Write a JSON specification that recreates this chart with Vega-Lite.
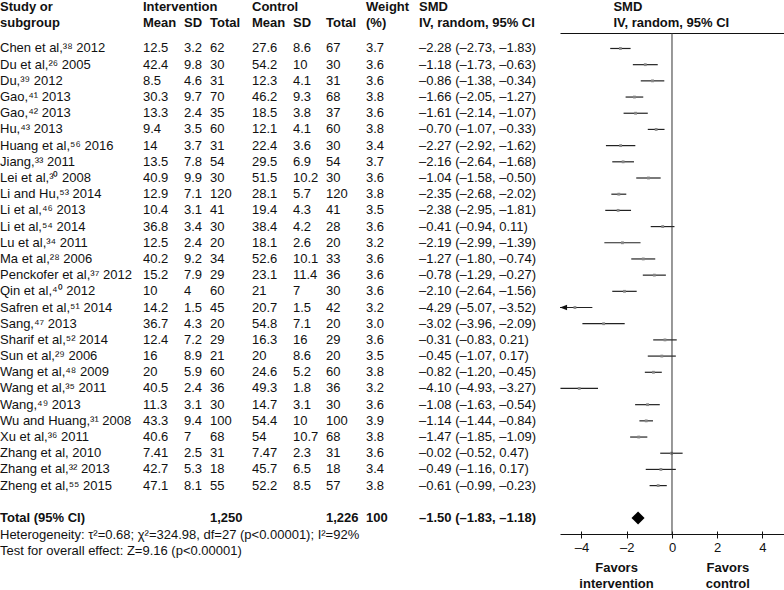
{
  "$schema": "https://vega.github.io/schema/vega-lite/v6.json",
  "padding": 0,
  "spacing": 0,
  "bounds": "flush",
  "config": {
    "view": {"stroke": null},
    "text": {"font": "Liberation Sans", "fontSize": 13, "color": "#111"},
    "axis": {"labelFont": "Liberation Sans", "labelFontSize": 13, "labelColor": "#111", "domainColor": "#111", "tickColor": "#111", "grid": false}
  },
  "datasets": {
    "studies": [
      {"k":"s1","study":"Chen et al,³⁸ 2012","im":12.5,"isd":3.2,"itot":62,"cm":27.6,"csd":8.6,"ctot":67,"w":3.7,"smd":-2.28,"lo":-2.73,"hi":-1.83},
      {"k":"s2","study":"Du et al,²⁶ 2005","im":42.4,"isd":9.8,"itot":30,"cm":54.2,"csd":10,"ctot":30,"w":3.6,"smd":-1.18,"lo":-1.73,"hi":-0.63},
      {"k":"s3","study":"Du,³⁹ 2012","im":8.5,"isd":4.6,"itot":31,"cm":12.3,"csd":4.1,"ctot":31,"w":3.6,"smd":-0.86,"lo":-1.38,"hi":-0.34},
      {"k":"s4","study":"Gao,⁴¹ 2013","im":30.3,"isd":9.7,"itot":70,"cm":46.2,"csd":9.3,"ctot":68,"w":3.8,"smd":-1.66,"lo":-2.05,"hi":-1.27},
      {"k":"s5","study":"Gao,⁴² 2013","im":13.3,"isd":2.4,"itot":35,"cm":18.5,"csd":3.8,"ctot":37,"w":3.6,"smd":-1.61,"lo":-2.14,"hi":-1.07},
      {"k":"s6","study":"Hu,⁴³ 2013","im":9.4,"isd":3.5,"itot":60,"cm":12.1,"csd":4.1,"ctot":60,"w":3.8,"smd":-0.70,"lo":-1.07,"hi":-0.33},
      {"k":"s7","study":"Huang et al,⁵⁶ 2016","im":14,"isd":3.7,"itot":31,"cm":22.4,"csd":3.6,"ctot":30,"w":3.4,"smd":-2.27,"lo":-2.92,"hi":-1.62},
      {"k":"s8","study":"Jiang,³³ 2011","im":13.5,"isd":7.8,"itot":54,"cm":29.5,"csd":6.9,"ctot":54,"w":3.7,"smd":-2.16,"lo":-2.64,"hi":-1.68},
      {"k":"s9","study":"Lei et al,³⁰ 2008","im":40.9,"isd":9.9,"itot":30,"cm":51.5,"csd":10.2,"ctot":30,"w":3.6,"smd":-1.04,"lo":-1.58,"hi":-0.50},
      {"k":"s10","study":"Li and Hu,⁵³ 2014","im":12.9,"isd":7.1,"itot":120,"cm":28.1,"csd":5.7,"ctot":120,"w":3.8,"smd":-2.35,"lo":-2.68,"hi":-2.02},
      {"k":"s11","study":"Li et al,⁴⁶ 2013","im":10.4,"isd":3.1,"itot":41,"cm":19.4,"csd":4.3,"ctot":41,"w":3.5,"smd":-2.38,"lo":-2.95,"hi":-1.81},
      {"k":"s12","study":"Li et al,⁵⁴ 2014","im":36.8,"isd":3.4,"itot":30,"cm":38.4,"csd":4.2,"ctot":28,"w":3.6,"smd":-0.41,"lo":-0.94,"hi":0.11},
      {"k":"s13","study":"Lu et al,³⁴ 2011","im":12.5,"isd":2.4,"itot":20,"cm":18.1,"csd":2.6,"ctot":20,"w":3.2,"smd":-2.19,"lo":-2.99,"hi":-1.39},
      {"k":"s14","study":"Ma et al,²⁸ 2006","im":40.2,"isd":9.2,"itot":34,"cm":52.6,"csd":10.1,"ctot":33,"w":3.6,"smd":-1.27,"lo":-1.80,"hi":-0.74},
      {"k":"s15","study":"Penckofer et al,³⁷ 2012","im":15.2,"isd":7.9,"itot":29,"cm":23.1,"csd":11.4,"ctot":36,"w":3.6,"smd":-0.78,"lo":-1.29,"hi":-0.27},
      {"k":"s16","study":"Qin et al,⁴⁰ 2012","im":10,"isd":4,"itot":60,"cm":21,"csd":7,"ctot":30,"w":3.6,"smd":-2.10,"lo":-2.64,"hi":-1.56},
      {"k":"s17","study":"Safren et al,⁵¹ 2014","im":14.2,"isd":1.5,"itot":45,"cm":20.7,"csd":1.5,"ctot":42,"w":3.2,"smd":-4.29,"lo":-5.07,"hi":-3.52},
      {"k":"s18","study":"Sang,⁴⁷ 2013","im":36.7,"isd":4.3,"itot":20,"cm":54.8,"csd":7.1,"ctot":20,"w":3.0,"smd":-3.02,"lo":-3.96,"hi":-2.09},
      {"k":"s19","study":"Sharif et al,⁵² 2014","im":12.4,"isd":7.2,"itot":29,"cm":16.3,"csd":16,"ctot":29,"w":3.6,"smd":-0.31,"lo":-0.83,"hi":0.21},
      {"k":"s20","study":"Sun et al,²⁹ 2006","im":16,"isd":8.9,"itot":21,"cm":20,"csd":8.6,"ctot":20,"w":3.5,"smd":-0.45,"lo":-1.07,"hi":0.17},
      {"k":"s21","study":"Wang et al,⁴⁸ 2009","im":20,"isd":5.9,"itot":60,"cm":24.6,"csd":5.2,"ctot":60,"w":3.8,"smd":-0.82,"lo":-1.20,"hi":-0.45},
      {"k":"s22","study":"Wang et al,³⁵ 2011","im":40.5,"isd":2.4,"itot":36,"cm":49.3,"csd":1.8,"ctot":36,"w":3.2,"smd":-4.10,"lo":-4.93,"hi":-3.27},
      {"k":"s23","study":"Wang,⁴⁹ 2013","im":11.3,"isd":3.1,"itot":30,"cm":14.7,"csd":3.1,"ctot":30,"w":3.6,"smd":-1.08,"lo":-1.63,"hi":-0.54},
      {"k":"s24","study":"Wu and Huang,³¹ 2008","im":43.3,"isd":9.4,"itot":100,"cm":54.4,"csd":10,"ctot":100,"w":3.9,"smd":-1.14,"lo":-1.44,"hi":-0.84},
      {"k":"s25","study":"Xu et al,³⁶ 2011","im":40.6,"isd":7,"itot":68,"cm":54,"csd":10.7,"ctot":68,"w":3.8,"smd":-1.47,"lo":-1.85,"hi":-1.09},
      {"k":"s26","study":"Zhang et al, 2010","im":7.41,"isd":2.5,"itot":31,"cm":7.47,"csd":2.3,"ctot":31,"w":3.6,"smd":-0.02,"lo":-0.52,"hi":0.47},
      {"k":"s27","study":"Zhang et al,³² 2013","im":42.7,"isd":5.3,"itot":18,"cm":45.7,"csd":6.5,"ctot":18,"w":3.4,"smd":-0.49,"lo":-1.16,"hi":0.17},
      {"k":"s28","study":"Zheng et al,⁵⁵ 2015","im":47.1,"isd":8.1,"itot":55,"cm":52.2,"csd":8.5,"ctot":57,"w":3.8,"smd":-0.61,"lo":-0.99,"hi":-0.23}
    ],
    "total": [
      {"k":"Total","study":"Total (95% CI)","itot":1250,"ctot":1226,"w":100,"smd":-1.50,"lo":-1.83,"hi":-1.18}
    ],
    "hdr": [
      {"k":"h1","col":"study","t":"Study or"},
      {"k":"h2","col":"study","t":"subgroup"},
      {"k":"h1","col":"im","t":"Intervention"},
      {"k":"h2","col":"im","t":"Mean"},
      {"k":"h2","col":"isd","t":"SD"},
      {"k":"h2","col":"itot","t":"Total"},
      {"k":"h1","col":"cm","t":"Control"},
      {"k":"h2","col":"cm","t":"Mean"},
      {"k":"h2","col":"csd","t":"SD"},
      {"k":"h2","col":"ctot","t":"Total"},
      {"k":"h1","col":"w","t":"Weight"},
      {"k":"h2","col":"w","t":"(%)"},
      {"k":"h1","col":"ci","t":"SMD"},
      {"k":"h2","col":"ci","t":"IV, random, 95% CI"},
      {"k":"h1","col":"plot","t":"SMD"},
      {"k":"h2","col":"plot","t":"IV, random, 95% CI"}
    ],
    "notes": [
      {"k":"Het","t":"Heterogeneity: τ²=0.68; χ²=324.98, df=27 (p<0.00001); I²=92%"},
      {"k":"Test","t":"Test for overall effect: Z=9.16 (p<0.00001)"}
    ]
  },
  "hconcat": [
    {
      "width": 143, "height": 501,
      "layer": [
        {"data":{"name":"studies"},"mark":{"type":"text","align":"left"},
         "encoding":{"x":{"value":0},"y":{"field":"k","type":"ordinal","scale":{"type":"point","padding":0,"range":[-16.9,549.75],"domain":["h1","h2","s1","s2","s3","s4","s5","s6","s7","s8","s9","s10","s11","s12","s13","s14","s15","s16","s17","s18","s19","s20","s21","s22","s23","s24","s25","s26","s27","s28","g","Total","Het","Test","F1","F2"]},"axis":null},"text":{"field":"study","type":"nominal"}}},
        {"data":{"name":"hdr"},"transform":[{"filter":"datum.col === 'study'"}],"mark":{"type":"text","align":"left","fontWeight":"bold","dy":-9.3},
         "encoding":{"x":{"value":0},"y":{"field":"k","type":"ordinal","axis":null},"text":{"field":"t","type":"nominal"}}},
        {"data":{"name":"total"},"mark":{"type":"text","align":"left","fontWeight":"bold"},
         "encoding":{"x":{"value":0},"y":{"field":"k","type":"ordinal","axis":null},"text":{"field":"study","type":"nominal"}}},
        {"data":{"name":"notes"},"mark":{"type":"text","align":"left","dy":1},
         "encoding":{"x":{"value":0},"y":{"field":"k","type":"ordinal","axis":null},"text":{"field":"t","type":"nominal"}}}
      ]
    },
    {
      "width": 41, "height": 501,
      "layer": [
        {"data":{"name":"studies"},"mark":{"type":"text","align":"left"},
         "encoding":{"x":{"value":0},"y":{"field":"k","type":"ordinal","scale":{"type":"point","padding":0,"range":[-16.9,549.75],"domain":["h1","h2","s1","s2","s3","s4","s5","s6","s7","s8","s9","s10","s11","s12","s13","s14","s15","s16","s17","s18","s19","s20","s21","s22","s23","s24","s25","s26","s27","s28","g","Total","Het","Test","F1","F2"]},"axis":null},"text":{"field":"im","type":"nominal"}}},
        {"data":{"name":"hdr"},"transform":[{"filter":"datum.col === 'im'"}],"mark":{"type":"text","align":"left","fontWeight":"bold","dy":-9.3},
         "encoding":{"x":{"value":0},"y":{"field":"k","type":"ordinal","axis":null},"text":{"field":"t","type":"nominal"}}}
      ]
    },
    {
      "width": 25.5, "height": 501,
      "layer": [
        {"data":{"name":"studies"},"mark":{"type":"text","align":"left"},
         "encoding":{"x":{"value":0},"y":{"field":"k","type":"ordinal","scale":{"type":"point","padding":0,"range":[-16.9,549.75],"domain":["h1","h2","s1","s2","s3","s4","s5","s6","s7","s8","s9","s10","s11","s12","s13","s14","s15","s16","s17","s18","s19","s20","s21","s22","s23","s24","s25","s26","s27","s28","g","Total","Het","Test","F1","F2"]},"axis":null},"text":{"field":"isd","type":"nominal"}}},
        {"data":{"name":"hdr"},"transform":[{"filter":"datum.col === 'isd'"}],"mark":{"type":"text","align":"left","fontWeight":"bold","dy":-9.3},
         "encoding":{"x":{"value":0},"y":{"field":"k","type":"ordinal","axis":null},"text":{"field":"t","type":"nominal"}}}
      ]
    },
    {
      "width": 41.5, "height": 501,
      "layer": [
        {"data":{"name":"studies"},"mark":{"type":"text","align":"left"},
         "encoding":{"x":{"value":0},"y":{"field":"k","type":"ordinal","scale":{"type":"point","padding":0,"range":[-16.9,549.75],"domain":["h1","h2","s1","s2","s3","s4","s5","s6","s7","s8","s9","s10","s11","s12","s13","s14","s15","s16","s17","s18","s19","s20","s21","s22","s23","s24","s25","s26","s27","s28","g","Total","Het","Test","F1","F2"]},"axis":null},"text":{"field":"itot","type":"nominal"}}},
        {"data":{"name":"hdr"},"transform":[{"filter":"datum.col === 'itot'"}],"mark":{"type":"text","align":"left","fontWeight":"bold","dy":-9.3},
         "encoding":{"x":{"value":0},"y":{"field":"k","type":"ordinal","axis":null},"text":{"field":"t","type":"nominal"}}},
        {"data":{"name":"total"},"mark":{"type":"text","align":"left","fontWeight":"bold"},
         "encoding":{"x":{"value":0},"y":{"field":"k","type":"ordinal","axis":null},"text":{"field":"itot","type":"quantitative","format":","}}}
      ]
    },
    {
      "width": 41, "height": 501,
      "layer": [
        {"data":{"name":"studies"},"mark":{"type":"text","align":"left"},
         "encoding":{"x":{"value":0},"y":{"field":"k","type":"ordinal","scale":{"type":"point","padding":0,"range":[-16.9,549.75],"domain":["h1","h2","s1","s2","s3","s4","s5","s6","s7","s8","s9","s10","s11","s12","s13","s14","s15","s16","s17","s18","s19","s20","s21","s22","s23","s24","s25","s26","s27","s28","g","Total","Het","Test","F1","F2"]},"axis":null},"text":{"field":"cm","type":"nominal"}}},
        {"data":{"name":"hdr"},"transform":[{"filter":"datum.col === 'cm'"}],"mark":{"type":"text","align":"left","fontWeight":"bold","dy":-9.3},
         "encoding":{"x":{"value":0},"y":{"field":"k","type":"ordinal","axis":null},"text":{"field":"t","type":"nominal"}}}
      ]
    },
    {
      "width": 33, "height": 501,
      "layer": [
        {"data":{"name":"studies"},"mark":{"type":"text","align":"left"},
         "encoding":{"x":{"value":0},"y":{"field":"k","type":"ordinal","scale":{"type":"point","padding":0,"range":[-16.9,549.75],"domain":["h1","h2","s1","s2","s3","s4","s5","s6","s7","s8","s9","s10","s11","s12","s13","s14","s15","s16","s17","s18","s19","s20","s21","s22","s23","s24","s25","s26","s27","s28","g","Total","Het","Test","F1","F2"]},"axis":null},"text":{"field":"csd","type":"nominal"}}},
        {"data":{"name":"hdr"},"transform":[{"filter":"datum.col === 'csd'"}],"mark":{"type":"text","align":"left","fontWeight":"bold","dy":-9.3},
         "encoding":{"x":{"value":0},"y":{"field":"k","type":"ordinal","axis":null},"text":{"field":"t","type":"nominal"}}}
      ]
    },
    {
      "width": 40, "height": 501,
      "layer": [
        {"data":{"name":"studies"},"mark":{"type":"text","align":"left"},
         "encoding":{"x":{"value":0},"y":{"field":"k","type":"ordinal","scale":{"type":"point","padding":0,"range":[-16.9,549.75],"domain":["h1","h2","s1","s2","s3","s4","s5","s6","s7","s8","s9","s10","s11","s12","s13","s14","s15","s16","s17","s18","s19","s20","s21","s22","s23","s24","s25","s26","s27","s28","g","Total","Het","Test","F1","F2"]},"axis":null},"text":{"field":"ctot","type":"nominal"}}},
        {"data":{"name":"hdr"},"transform":[{"filter":"datum.col === 'ctot'"}],"mark":{"type":"text","align":"left","fontWeight":"bold","dy":-9.3},
         "encoding":{"x":{"value":0},"y":{"field":"k","type":"ordinal","axis":null},"text":{"field":"t","type":"nominal"}}},
        {"data":{"name":"total"},"mark":{"type":"text","align":"left","fontWeight":"bold"},
         "encoding":{"x":{"value":0},"y":{"field":"k","type":"ordinal","axis":null},"text":{"field":"ctot","type":"quantitative","format":","}}}
      ]
    },
    {
      "width": 52.5, "height": 501,
      "layer": [
        {"data":{"name":"studies"},"mark":{"type":"text","align":"left"},
         "encoding":{"x":{"value":0},"y":{"field":"k","type":"ordinal","scale":{"type":"point","padding":0,"range":[-16.9,549.75],"domain":["h1","h2","s1","s2","s3","s4","s5","s6","s7","s8","s9","s10","s11","s12","s13","s14","s15","s16","s17","s18","s19","s20","s21","s22","s23","s24","s25","s26","s27","s28","g","Total","Het","Test","F1","F2"]},"axis":null},"text":{"field":"w","type":"quantitative","format":".1f"}}},
        {"data":{"name":"hdr"},"transform":[{"filter":"datum.col === 'w'"}],"mark":{"type":"text","align":"left","fontWeight":"bold","dy":-9.3},
         "encoding":{"x":{"value":0},"y":{"field":"k","type":"ordinal","axis":null},"text":{"field":"t","type":"nominal"}}},
        {"data":{"name":"total"},"mark":{"type":"text","align":"left","fontWeight":"bold"},
         "encoding":{"x":{"value":0},"y":{"field":"k","type":"ordinal","axis":null},"text":{"field":"w","type":"nominal"}}}
      ]
    },
    {
      "width": 141, "height": 501,
      "layer": [
        {"data":{"name":"studies"},
         "transform":[{"calculate":"replace(replace(format(datum.smd,'.2f'),'-','–'),'−','–') + ' (' + replace(replace(format(datum.lo,'.2f'),'-','–'),'−','–') + ', ' + replace(replace(format(datum.hi,'.2f'),'-','–'),'−','–') + ')'","as":"ci"}],
         "mark":{"type":"text","align":"left"},
         "encoding":{"x":{"value":0},"y":{"field":"k","type":"ordinal","scale":{"type":"point","padding":0,"range":[-16.9,549.75],"domain":["h1","h2","s1","s2","s3","s4","s5","s6","s7","s8","s9","s10","s11","s12","s13","s14","s15","s16","s17","s18","s19","s20","s21","s22","s23","s24","s25","s26","s27","s28","g","Total","Het","Test","F1","F2"]},"axis":null},"text":{"field":"ci","type":"nominal"}}},
        {"data":{"name":"hdr"},"transform":[{"filter":"datum.col === 'ci'"}],"mark":{"type":"text","align":"left","fontWeight":"bold","dy":-9.3},
         "encoding":{"x":{"value":0},"y":{"field":"k","type":"ordinal","axis":null},"text":{"field":"t","type":"nominal"}}},
        {"data":{"name":"total"},
         "transform":[{"calculate":"replace(replace(format(datum.smd,'.2f'),'-','–'),'−','–') + ' (' + replace(replace(format(datum.lo,'.2f'),'-','–'),'−','–') + ', ' + replace(replace(format(datum.hi,'.2f'),'-','–'),'−','–') + ')'","as":"ci"}],
         "mark":{"type":"text","align":"left","fontWeight":"bold"},
         "encoding":{"x":{"value":0},"y":{"field":"k","type":"ordinal","axis":null},"text":{"field":"ci","type":"nominal"}}}
      ]
    },
    {
      "width": 225.1, "height": 501,
      "resolve": {"axis": {"x": "independent"}},
      "layer": [
        {"data":{"name":"studies"},
         "mark":{"type":"rule","color":"#222","strokeWidth":1.2},
         "encoding":{
           "x":{"field":"lo","type":"quantitative","scale":{"domain":[-4.95,5],"nice":false,"zero":false,"clamp":true},
                "axis":{"orient":"bottom","values":[-4,-2,0,2,4],"tickSize":4,"labelPadding":3,"title":null,"labelExpr":"replace(replace(datum.label,'−','–'),'-','–')"}},
           "x2":{"field":"hi"},
           "y":{"field":"k","type":"ordinal","scale":{"type":"point","padding":0,"range":[-16.9,549.75],"domain":["h1","h2","s1","s2","s3","s4","s5","s6","s7","s8","s9","s10","s11","s12","s13","s14","s15","s16","s17","s18","s19","s20","s21","s22","s23","s24","s25","s26","s27","s28","g","Total","Het","Test","F1","F2"]},"axis":null}}},
        {"data":{"name":"studies"},
         "mark":{"type":"point","shape":"square","filled":true,"size":8,"color":"#888","opacity":1},
         "encoding":{
           "x":{"field":"smd","type":"quantitative","axis":{"orient":"bottom","offset":-3,"values":[-4,-2,0,2,4],"tickSize":3,"domain":false,"labels":false,"title":null}},
           "y":{"field":"k","type":"ordinal","axis":null}}},
        {"data":{"name":"studies"},
         "transform":[{"filter":"datum.lo < -4.95"}],
         "mark":{"type":"point","shape":"M0,0L2,-0.75L2,0.75Z","filled":true,"size":50,"color":"#111","opacity":1},
         "encoding":{
           "x":{"field":"lo","type":"quantitative","axis":null},
           "y":{"field":"k","type":"ordinal","axis":null}}},
        {"data":{"values":[{"z":0}]},
         "mark":{"type":"rule","color":"#333","strokeWidth":1},
         "encoding":{
           "x":{"field":"z","type":"quantitative","axis":{"orient":"top","ticks":false,"labels":false,"domain":true,"title":null}}}},
        {"data":{"name":"total"},
         "mark":{"type":"point","shape":"diamond","filled":true,"size":170,"color":"#000","opacity":1},
         "encoding":{
           "x":{"field":"smd","type":"quantitative","axis":null},
           "y":{"field":"k","type":"ordinal","axis":null}}},
        {"data":{"name":"hdr"},"transform":[{"filter":"datum.col === 'plot'"}],
         "mark":{"type":"text","align":"left","fontWeight":"bold","dy":-9.3},
         "encoding":{"x":{"datum":-2.59,"type":"quantitative","axis":null},"y":{"field":"k","type":"ordinal","axis":null},"text":{"field":"t","type":"nominal"}}},
        {"data":{"values":[{"k":"F1","t":"Favors"},{"k":"F2","t":"intervention"}]},
         "mark":{"type":"text","align":"center","fontWeight":"bold","dy":1.5},
         "encoding":{"x":{"datum":-2.45,"type":"quantitative","axis":null},"y":{"field":"k","type":"ordinal","axis":null},"text":{"field":"t","type":"nominal"}}},
        {"data":{"values":[{"k":"F1","t":"Favors"},{"k":"F2","t":"control"}]},
         "mark":{"type":"text","align":"center","fontWeight":"bold","dy":1.5},
         "encoding":{"x":{"datum":2.47,"type":"quantitative","axis":null},"y":{"field":"k","type":"ordinal","axis":null},"text":{"field":"t","type":"nominal"}}}
      ]
    }
  ]
}
